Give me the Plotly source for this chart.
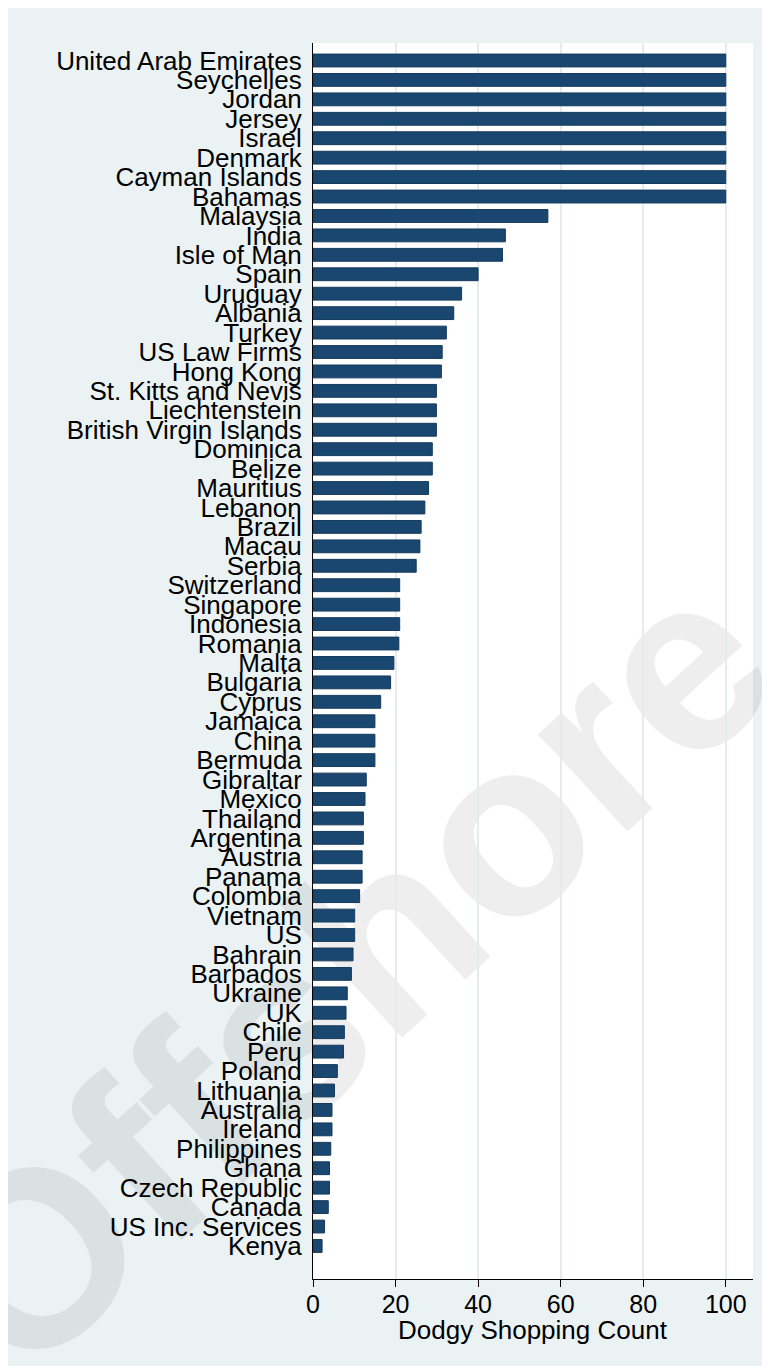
import plotly.graph_objects as go

countries = [
    "United Arab Emirates", "Seychelles", "Jordan", "Jersey", "Israel", "Denmark",
    "Cayman Islands", "Bahamas", "Malaysia", "India", "Isle of Man", "Spain",
    "Uruguay", "Albania", "Turkey", "US Law Firms", "Hong Kong", "St. Kitts and Nevis",
    "Liechtenstein", "British Virgin Islands", "Dominica", "Belize", "Mauritius",
    "Lebanon", "Brazil", "Macau", "Serbia", "Switzerland", "Singapore", "Indonesia",
    "Romania", "Malta", "Bulgaria", "Cyprus", "Jamaica", "China", "Bermuda",
    "Gibraltar", "Mexico", "Thailand", "Argentina", "Austria", "Panama", "Colombia",
    "Vietnam", "US", "Bahrain", "Barbados", "Ukraine", "UK", "Chile", "Peru",
    "Poland", "Lithuania", "Australia", "Ireland", "Philippines", "Ghana",
    "Czech Republic", "Canada", "US Inc. Services", "Kenya",
]
counts = [
    100, 100, 100, 100, 100, 100,
    100, 100, 56.9, 46.6, 45.9, 40.0,
    36.0, 34.1, 32.3, 31.3, 31.1, 29.9,
    29.9, 29.9, 28.9, 28.9, 28.0,
    27.1, 26.2, 25.9, 25.0, 21.0, 21.0, 21.0,
    20.8, 19.6, 18.8, 16.4, 15.0, 15.0, 15.0,
    12.9, 12.6, 12.2, 12.2, 11.9, 11.9, 11.3,
    10.1, 10.1, 9.7, 9.3, 8.3, 8.0, 7.6, 7.4,
    5.9, 5.2, 4.6, 4.6, 4.3, 4.0,
    4.0, 3.7, 2.8, 2.2,
]
x_ticks = [0, 20, 40, 60, 80, 100]
x_title = "Dodgy Shopping Count"
watermark = "Offshore"

# figure sits inside the page's default 8px body margin
W, H = 762, 1358
L, R, T, B = 305, 17, 35, 87
pw, ph = W - L - R, H - T - B


def px(xp):
    return (xp - L) / pw


def py(yp):
    return (H - B - yp) / ph


FONT = "Liberation Sans, Arial, Helvetica, sans-serif"

fig = go.Figure()
fig.add_trace(go.Bar(
    x=counts,
    y=list(range(len(countries))),
    orientation="h",
    width=0.66,
    marker=dict(color="#1a476f", line=dict(color="#153a5c", width=1)),
    hoverinfo="x+text",
    text=countries,
    textposition="none",
))

n = len(countries)
wx, wy = 322, 946  # watermark centre in figure pixels
shapes = [
    dict(type="rect", xref="paper", yref="paper", layer="below",
         x0=px(wx - 1), x1=px(wx + 1), y0=py(wy + 1), y1=py(wy - 1),
         fillcolor="rgba(0,0,0,0)", line=dict(width=0),
         label=dict(text=watermark, textangle=-42.5, textposition="middle center",
                    font=dict(family=FONT, size=250, weight="bold",
                              color="rgba(0,0,0,0.065)"))),
]

fig.update_layout(
    width=W, height=H,
    margin=dict(l=L, r=R, t=T, b=B, autoexpand=False),
    paper_bgcolor="#eaf2f3",
    plot_bgcolor="white",
    showlegend=False,
    font=dict(family=FONT, color="black", size=25),
    shapes=shapes,
    annotations=[dict(
        text=x_title, xref="paper", yref="paper",
        x=0.5, y=py(1322), xanchor="center", yanchor="middle",
        showarrow=False, font=dict(size=26, color="black"),
    )],
    xaxis=dict(
        range=[0, 106.6],
        tickvals=x_ticks,
        ticktext=[str(v) for v in x_ticks],
        ticks="outside", ticklen=7, tickwidth=1, tickcolor="black",
        showline=True, linecolor="black", linewidth=1,
        showgrid=True, gridcolor="#e6ecee", gridwidth=1.5,
        zeroline=False,
        tickfont=dict(size=25),
        ticklabelstandoff=-4,
        automargin=False,
    ),
    yaxis=dict(
        range=[n - 1 + 1.7, -0.9],
        tickvals=list(range(n)),
        ticktext=countries,
        ticks="", showgrid=False, zeroline=False,
        showline=True, linecolor="black", linewidth=1,
        tickfont=dict(size=26),
        ticklabelstandoff=5,
        automargin=False,
    ),
)

fig.write_html("out.html")
